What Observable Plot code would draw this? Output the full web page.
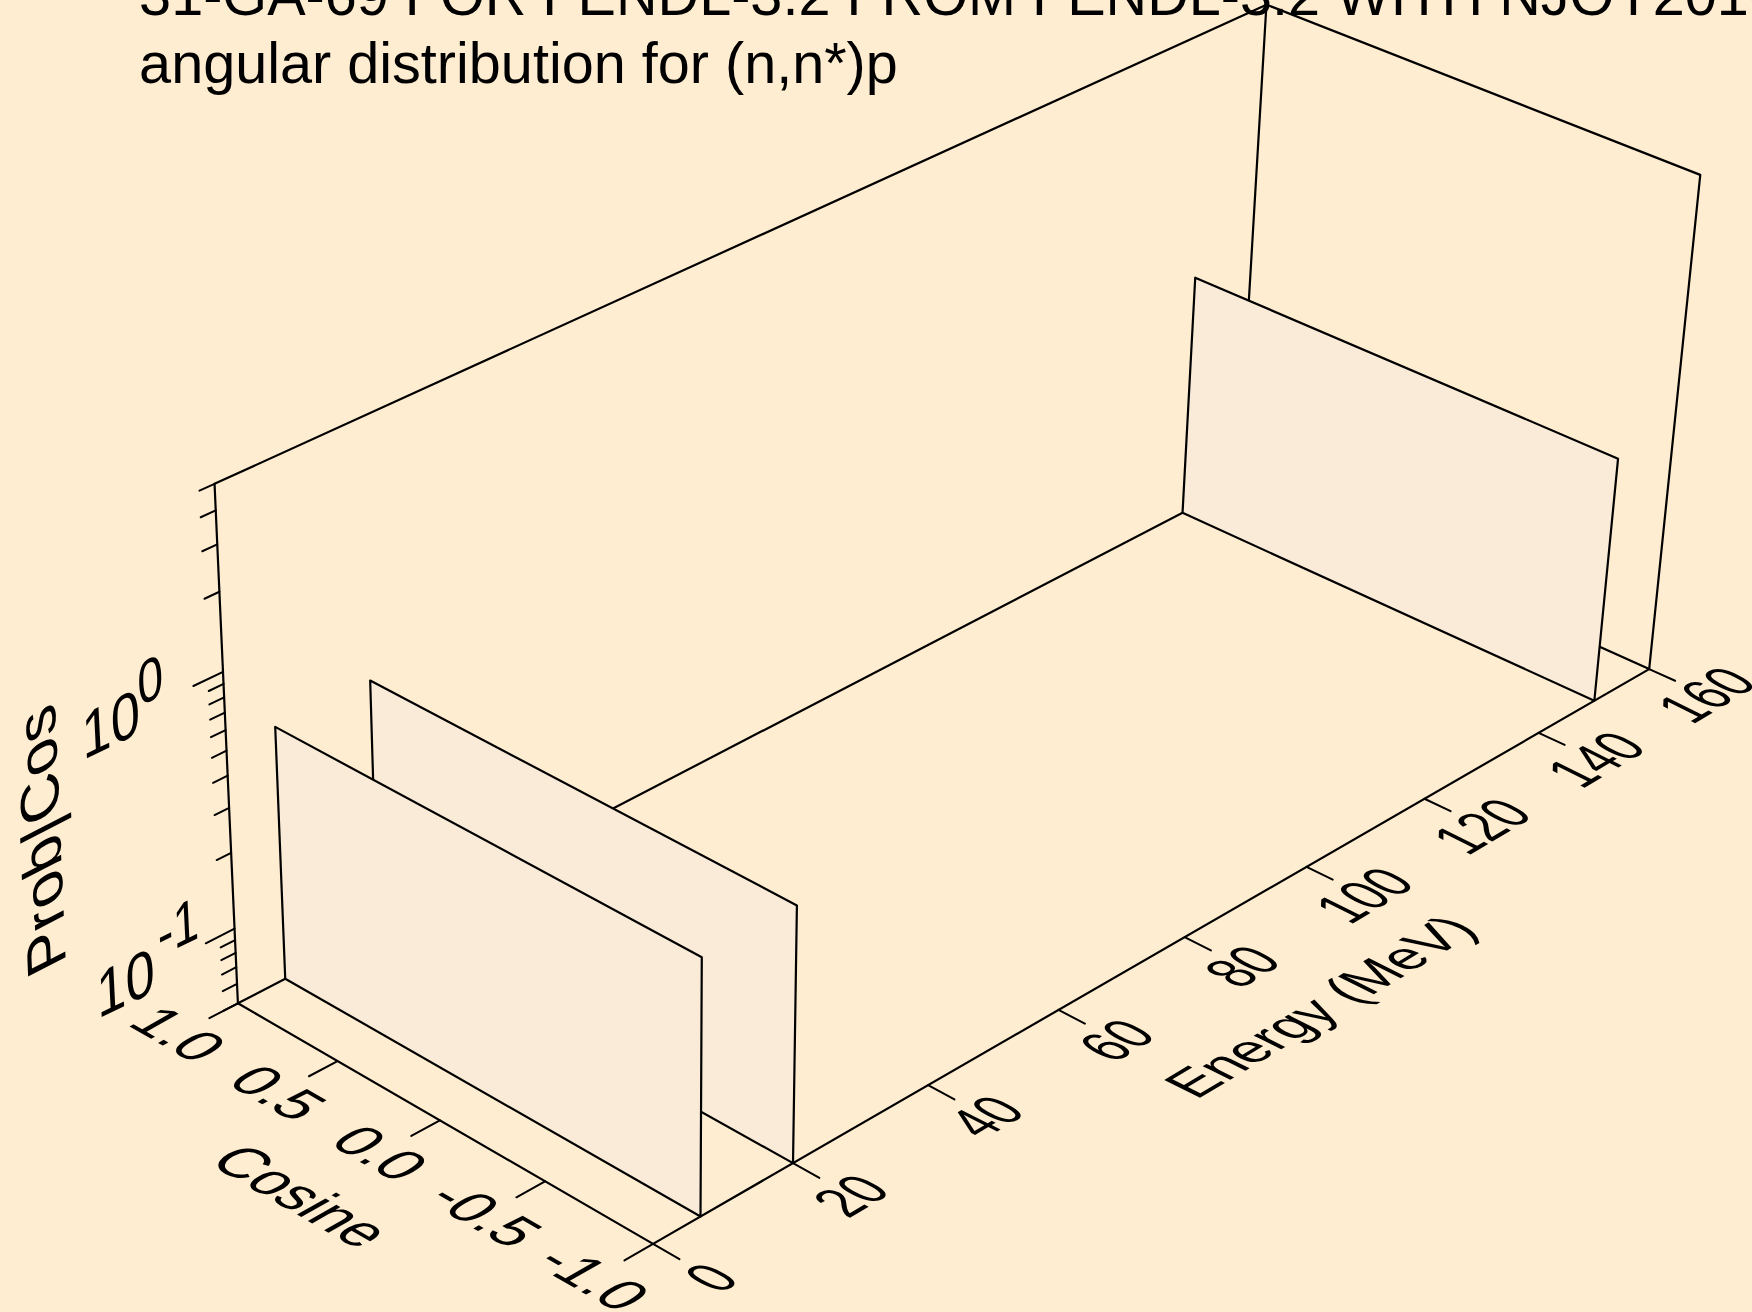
<!DOCTYPE html>
<html><head><meta charset="utf-8">
<style>html,body{margin:0;padding:0;background:#ffedd1;overflow:hidden}svg{display:block}</style>
<script src="https://cdn.jsdelivr.net/npm/d3@7"></script>
<script src="https://cdn.jsdelivr.net/npm/@observablehq/plot@0.6"></script>
</head><body><div id="chart"></div>
<script>
const titleLines = ["31-GA-69 FOR FENDL-3.2 FROM FENDL-3.2 WITH NJOY2016", "angular distribution for (n,n*)p"];
const panelEnergies = [150, 20, 6.7];
const panelProb = 0.5;
const energyRange = [0, 160];
const cosineRange = [1, -1];
const probRange = [0.05, 5];
const energyTicks = [0, 20, 40, 60, 80, 100, 120, 140, 160];
const cosineTicks = [1, 0.5, 0, -0.5, -1];
const probMajor = [0.1, 1];
const probMinor = [0.05, 0.06, 0.07, 0.08, 0.09, 0.2, 0.3, 0.4, 0.5, 0.6, 0.7, 0.8, 0.9, 2, 3, 4, 5];
const cosineLabels = ["1.0", "0.5", "0.0", "-0.5", "-1.0"];

// camera of the 3-D view
const cam = {x0: 237.4, y0: 1002.8, xu: 1169.2, xv: 380.9, xt: -34.7, yu: -453.2, yv: 175.3, yt: -545.1, wu: 0.1367, wv: -0.0525, wt: -0.053};
const proj = (E, c, p) => {
  const u = E / 160, v = (1 - c) / 2, t = (Math.log10(p) - Math.log10(0.05)) / 2;
  const w = 1 + cam.wu * u + cam.wv * v + cam.wt * t;
  return [(cam.x0 + cam.xu * u + cam.xv * v + cam.xt * t) / w, (cam.y0 + cam.yu * u + cam.yv * v + cam.yt * t) / w];
};
const px = d => proj(d.E, d.c, d.p)[0];
const py = d => proj(d.E, d.c, d.p)[1];
const pt = (E, c, p, id) => ({E, c, p, id});

const [E0, E1] = energyRange, [C0, C1] = cosineRange, [P0, P1] = probRange;
const boxEdges = [
  [pt(E0,C0,P1), pt(E0,C0,P0), pt(E0,C1,P0), pt(E1,C1,P0), pt(E1,C1,P1), pt(E1,C0,P1), pt(E0,C0,P1)],
  [pt(E0,C0,P0), pt(E1,C0,P0), pt(E1,C1,P0)],
  [pt(E1,C0,P0), pt(E1,C0,P1)]
].flatMap((l, i) => l.map(d => ({...d, id: i})));

const panelRows = panelEnergies.flatMap(E => [
  pt(E,C0,P0,E), pt(E,C0,panelProb,E), pt(E,C1,panelProb,E), pt(E,C1,P0,E), pt(E,C0,P0,E)
]);

const tickRows = [
  ...energyTicks.flatMap(E => [pt(E,C1,P0,"e"+E), pt(E,C1-0.12,P0,"e"+E)]),
  ...cosineTicks.flatMap(c => [pt(E0,c,P0,"c"+c), pt(E0-4,c,P0,"c"+c)]),
  ...probMajor.flatMap(p => [pt(E0,C0,p,"p"+p), pt(E0-4,C0,p,"p"+p)]),
  ...probMinor.flatMap(p => [pt(E0,C0,p,"m"+p), pt(E0-2,C0,p,"m"+p)])
];

const energyLabelRows = energyTicks.map(E => ({E, c: -1.27, p: P0, s: String(E)}));
const cosineLabelRows = cosineTicks.map((c, i) => ({E: -8.5, c, p: P0, s: cosineLabels[i]}));
const decadeRows = probMajor.map(p => ({E: -15, c: C0, p, s: "10"}));
const exponentRows = [{E: -7.6, c: C0, p: 0.1 * 1.3, s: "-1"}, {E: -9.6, c: C0, p: 1.24, s: "0"}];
const energyTitleRows = [{E: 79.9, c: -1.62, p: P0, s: "Energy (MeV)"}];
const cosineTitleRows = [{E: -19.3, c: 0, p: P0, s: "Cosine"}];
const yTitleRows = [{E: -24.6, c: C0, p: 0.5, s: "Prob|Cos"}];

const font = "Liberation Sans";
const txt = (rows, cls, size) => Plot.text(rows, {x: px, y: py, text: "s", fontSize: size, fontFamily: font, fill: "#000", textAnchor: "middle", className: cls});

const chart = Plot.plot({
  width: 1752, height: 1312, margin: 0,
  style: {background: "#ffedd1"},
  x: {domain: [0, 1752], range: [0, 1752], axis: null},
  y: {domain: [0, 1312], range: [0, 1312], axis: null},
  marks: [
    Plot.line(boxEdges, {x: px, y: py, z: "id", stroke: "#000", strokeWidth: 2.2}),
    Plot.line(panelRows, {x: px, y: py, z: "id", stroke: "#000", strokeWidth: 2.2, fill: "#f9ebd8"}),
    Plot.line(tickRows, {x: px, y: py, z: "id", stroke: "#000", strokeWidth: 2}),
    txt(energyLabelRows, "sk-etick", 40),
    txt(cosineLabelRows, "sk-ctick", 40),
    txt(decadeRows, "sk-ytick", 40),
    txt(exponentRows, "sk-yexp", 39),
    txt(energyTitleRows, "sk-elab", 40),
    txt(cosineTitleRows, "sk-clab", 40),
    txt(yTitleRows, "sk-ylab", 40),
    Plot.text(titleLines.map((s, i) => ({s, x: 138.6, y: [14.6, 82.4][i]})), {x: "x", y: "y", text: "s", fontSize: 57.6, fontFamily: font, fill: "#000", textAnchor: "start", lineAnchor: "bottom"})
  ]
});
document.getElementById("chart").append(chart);

// the labels of the reference lie in the planes of the 3-D box: shear them
const shear = {
  "sk-etick": [1.02, -0.61, 1.42, 0.71],
  "sk-ctick": [1.25, 0.72, -1.3, 0.74],
  "sk-ytick": [1.3, -0.63, 0.08, 1.62],
  "sk-yexp":  [1.175, -0.575, 0.075, 1.55],
  "sk-elab":  [1.15, -0.685, 1.3, 0.65],
  "sk-clab":  [1.22, 0.70, -1.35, 0.76],
  "sk-ylab":  [-0.066, -1.58, 1.36, -0.7]
};
for (const [cls, m] of Object.entries(shear)) {
  chart.querySelectorAll("." + cls + " text, text." + cls).forEach(el => {
    el.setAttribute("transform", (el.getAttribute("transform") || "") + ` matrix(${m.join(",")},0,0)`);
  });
}
</script></body></html>
